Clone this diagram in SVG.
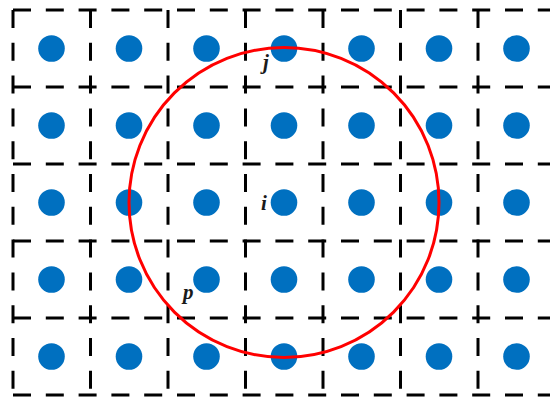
<svg xmlns="http://www.w3.org/2000/svg" width="550" height="399" viewBox="0 0 550 399">
<style>
.g line{stroke:#000;stroke-width:3;stroke-dasharray:18 14.8;fill:none}
.dot{fill:#0070C0}
.lbl{font-family:"Liberation Serif","Times New Roman",serif;font-style:italic;font-weight:bold;font-size:21px;fill:#1a1a1a}
</style>
<rect width="550" height="399" fill="#fff"/>
<g id="grid" class="g">
<line x1="13" y1="10" x2="550" y2="10"/>
<line x1="13" y1="87" x2="550" y2="87"/>
<line x1="13" y1="164" x2="550" y2="164"/>
<line x1="13" y1="241" x2="550" y2="241"/>
<line x1="13" y1="318" x2="550" y2="318"/>
<line x1="13" y1="395" x2="550" y2="395"/>
<line x1="13" y1="10" x2="13" y2="395"/>
<line x1="90.5" y1="10" x2="90.5" y2="395"/>
<line x1="168" y1="10" x2="168" y2="395"/>
<line x1="245.5" y1="10" x2="245.5" y2="395"/>
<line x1="323" y1="10" x2="323" y2="395"/>
<line x1="400.5" y1="10" x2="400.5" y2="395"/>
<line x1="478" y1="10" x2="478" y2="395"/>
</g>
<g id="dots">
<g id="row1"><circle class="dot" cx="51.5" cy="48.5" r="13.3"/><circle class="dot" cx="129" cy="48.5" r="13.3"/><circle class="dot" cx="206.5" cy="48.5" r="13.3"/><circle class="dot" cx="284" cy="48.5" r="13.3"/><circle class="dot" cx="361.5" cy="48.5" r="13.3"/><circle class="dot" cx="439" cy="48.5" r="13.3"/><circle class="dot" cx="516.5" cy="48.5" r="13.3"/></g>
<g id="row2"><circle class="dot" cx="51.5" cy="125.5" r="13.3"/><circle class="dot" cx="129" cy="125.5" r="13.3"/><circle class="dot" cx="206.5" cy="125.5" r="13.3"/><circle class="dot" cx="284" cy="125.5" r="13.3"/><circle class="dot" cx="361.5" cy="125.5" r="13.3"/><circle class="dot" cx="439" cy="125.5" r="13.3"/><circle class="dot" cx="516.5" cy="125.5" r="13.3"/></g>
<g id="row3"><circle class="dot" cx="51.5" cy="202.5" r="13.3"/><circle class="dot" cx="129" cy="202.5" r="13.3"/><circle class="dot" cx="206.5" cy="202.5" r="13.3"/><circle class="dot" cx="284" cy="202.5" r="13.3"/><circle class="dot" cx="361.5" cy="202.5" r="13.3"/><circle class="dot" cx="439" cy="202.5" r="13.3"/><circle class="dot" cx="516.5" cy="202.5" r="13.3"/></g>
<g id="row4"><circle class="dot" cx="51.5" cy="279.5" r="13.3"/><circle class="dot" cx="129" cy="279.5" r="13.3"/><circle class="dot" cx="206.5" cy="279.5" r="13.3"/><circle class="dot" cx="284" cy="279.5" r="13.3"/><circle class="dot" cx="361.5" cy="279.5" r="13.3"/><circle class="dot" cx="439" cy="279.5" r="13.3"/><circle class="dot" cx="516.5" cy="279.5" r="13.3"/></g>
<g id="row5"><circle class="dot" cx="51.5" cy="356.5" r="13.3"/><circle class="dot" cx="129" cy="356.5" r="13.3"/><circle class="dot" cx="206.5" cy="356.5" r="13.3"/><circle class="dot" cx="284" cy="356.5" r="13.3"/><circle class="dot" cx="361.5" cy="356.5" r="13.3"/><circle class="dot" cx="439" cy="356.5" r="13.3"/><circle class="dot" cx="516.5" cy="356.5" r="13.3"/></g>
</g>
<circle id="range" cx="284" cy="202.5" r="155" fill="none" stroke="#FF0000" stroke-width="3"/>
<g id="labels">
<text class="lbl" x="263" y="69">j</text>
<text class="lbl" x="261" y="210">i</text>
<text class="lbl" x="183" y="299">p</text>
</g>
</svg>
